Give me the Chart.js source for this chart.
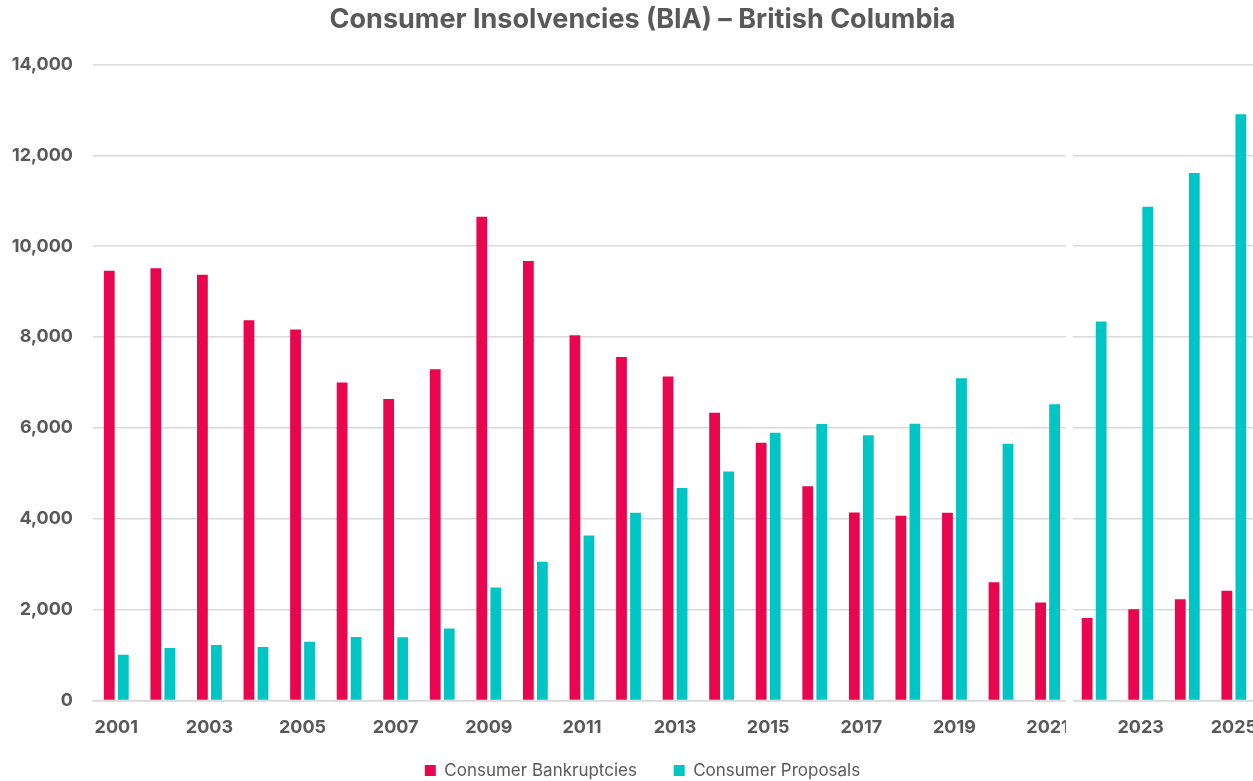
<!DOCTYPE html>
<html>
<head>
<meta charset="utf-8">
<script src="https://cdn.jsdelivr.net/npm/chart.js@4/dist/chart.umd.min.js"></script>
<style>
  html, body { margin: 0; padding: 0; background: #fff; overflow: hidden; }
  #wrap { position: absolute; left: 0; top: 0; width: 1273px; height: 789px; }
</style>
</head>
<body>
<div id="wrap"><canvas id="c"></canvas></div>
<script>
const years = ['2001','2002','2003','2004','2005','2006','2007','2008','2009','2010','2011','2012','2013','2014','2015','2016','2017','2018','2019','2020','2021','2022','2023','2024','2025'];
const bankruptcies = [9455, 9512, 9369, 8366, 8165, 7000, 6637, 7288, 10644, 9674, 8038, 7561, 7129, 6333, 5674, 4712, 4138, 4067, 4129, 2600, 2157, 1813, 2007, 2228, 2414];
const proposals = [1003, 1156, 1222, 1175, 1289, 1394, 1390, 1583, 2485, 3053, 3629, 4129, 4674, 5038, 5894, 6083, 5836, 6092, 7091, 5650, 6517, 8338, 10867, 11609, 12900];
const yTicks = [0, 2000, 4000, 6000, 8000, 10000, 12000, 14000];

const gray = '#595959';
const font = 'Inter, "Open Sans", sans-serif';

const stripe = {
  id: 'stripe',
  afterDraw(chart) {
    const xs = chart.scales.x, ys = chart.scales.y, ctx = chart.ctx;
    const x = (xs.getPixelForValue(20) + xs.getPixelForValue(21)) / 2 - 1.5;
    const top = ys.getPixelForValue(13500);
    ctx.save();
    ctx.fillStyle = '#ffffff';
    ctx.fillRect(x - 3.5, top, 7, 745 - top);
    ctx.restore();
  }
};

new Chart(document.getElementById('c'), {
  type: 'bar',
  data: {
    labels: years,
    datasets: [
      { label: 'Consumer Bankruptcies', data: bankruptcies, backgroundColor: '#E8064E', categoryPercentage: 0.602, barPercentage: 0.77 },
      { label: 'Consumer Proposals', data: proposals, backgroundColor: '#00C5C5', categoryPercentage: 0.602, barPercentage: 0.77 }
    ]
  },
  options: {
    responsive: true,
    maintainAspectRatio: false,
    animation: false,
    layout: { padding: { left: 12, right: 0, top: 0, bottom: 0 } },
    plugins: {
      title: {
        display: true,
        text: 'Consumer Insolvencies (BIA) – British Columbia',
        color: gray,
        font: { family: font, size: 27, weight: 'bold' },
        padding: { top: 4, bottom: 28 }
      },
      legend: {
        position: 'bottom',
        labels: {
          color: gray,
          font: { family: font, size: 17 },
          boxWidth: 11, boxHeight: 11,
          padding: 8,
          generateLabels: (chart) => {
            const items = Chart.defaults.plugins.legend.labels.generateLabels(chart);
            items.forEach((it, i) => { if (i < items.length - 1) it.text = it.text + '      '; });
            return items;
          }
        }
      },
      tooltip: { enabled: false }
    },
    scales: {
      x: {
        grid: { display: false, drawTicks: false },
        border: { color: '#d9d9d9', width: 1.5 },
        ticks: {
          autoSkip: false, maxRotation: 0, padding: 16,
          color: gray,
          font: { family: font, size: 18, weight: 'bold' },
          callback: function(v, i) { return i % 2 === 0 ? years[i] : ''; }
        }
      },
      y: {
        min: 0, max: 14000,
        afterBuildTicks: (axis) => { axis.ticks = yTicks.map(v => ({ value: v })); },
        afterFit: (axis) => { axis.width = 81; },
        grid: { color: '#d9d9d9', lineWidth: 1.5, drawTicks: false },
        border: { display: false },
        ticks: {
          padding: 20,
          color: gray,
          font: { family: font, size: 18, weight: 'bold' },
          callback: (v) => v.toLocaleString('en-US')
        }
      }
    }
  },
  plugins: [stripe]
});
</script>
</body>
</html>
